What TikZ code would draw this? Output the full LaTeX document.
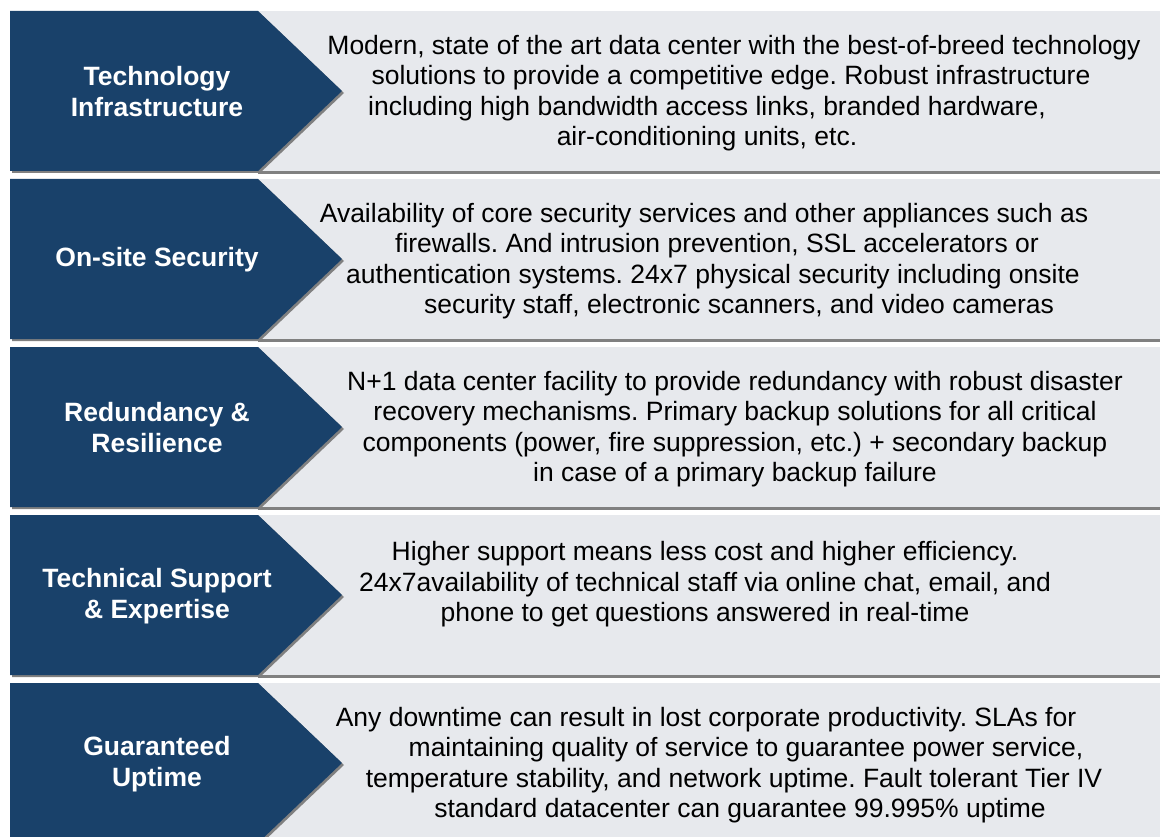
\documentclass[tikz,border=0pt]{standalone}
\usepackage{fontspec}
\setmainfont{Liberation Sans}
\usepackage{tikz}
\usetikzlibrary{positioning}
\definecolor{chevblue}{RGB}{25,65,106}
\definecolor{bandgrey}{RGB}{231,233,237}
\definecolor{shadegrey}{RGB}{128,128,128}
\tikzstyle{band}=[fill=bandgrey]
\tikzstyle{chevron}=[fill=chevblue]
\tikzstyle{shade}=[fill=shadegrey]
\tikzstyle{headtext}=[text=white,align=center,font=\fontsize{26.5}{31}\selectfont\bfseries]
\tikzstyle{bodytext}=[text=black,align=center,font=\fontsize{26.5}{30.5}\selectfont\frenchspacing]

\begin{document}
\begin{tikzpicture}[x=1pt,y=-1pt]
      \useasboundingbox (0,0) rectangle (1160,837);
      \clip (0,0) rectangle (1160,837);
      % grey bands with the chevrons on top
      \foreach \y in {11,179,347,515,683} {
        \fill[shade] (258,\y+3) rectangle (1170,\y+163);
        \fill[band] (258,\y) rectangle (1170,\y+160);
        \fill[shade] (12,\y+2) -- (260,\y+2) -- (344,\y+82) -- (260,\y+162) -- (12,\y+162) -- cycle;
        \fill[chevron] (10,\y) -- (258,\y) -- (342,\y+80) -- (258,\y+160) -- (10,\y+160) -- cycle;
      }
      \node[headtext] (tech) at (157,92) {Technology\\Infrastructure};
      \node[headtext] (security) at (157,260) {On-site Security};
      \node[headtext] (redundancy) at (157,428) {Redundancy \&\\Resilience};
      \node[headtext] (support) at (157,596) {Technical Support\\\& Expertise};
      \node[headtext] (uptime) at (157,764) {Guaranteed\\Uptime};
      \node[bodytext] (techtext) at (707,93) {\hspace*{54pt}Modern, state of the art data center with the best-of-breed technology\\
        \hspace*{48pt}solutions to provide a competitive edge. Robust infrastructure\\
        including high bandwidth access links, branded hardware,\\
        air-conditioning units, etc.};
      \node[bodytext] (securitytext) at (704,261) {Availability of core security services and other appliances such as\\
        \hspace*{26pt}firewalls. And intrusion prevention, SSL accelerators or\\
        \hspace*{18pt}authentication systems. 24x7 physical security including onsite\\
        \hspace*{70pt}security staff, electronic scanners, and video cameras};
      \node[bodytext] (redundancytext) at (735,429) {N+1 data center facility to provide redundancy with robust disaster\\
        recovery mechanisms. Primary backup solutions for all critical\\
        components (power, fire suppression, etc.) + secondary backup\\
        in case of a primary backup failure};
      \node[bodytext] (supporttext) at (705,597) {Higher support means less cost and higher efficiency.\\
        24x7availability of technical staff via online chat, email, and\\
        phone to get questions answered in real-time\\ ~};
      \node[bodytext] (uptimetext) at (706,765) {Any downtime can result in lost corporate productivity. SLAs for\\
        \hspace*{80pt}maintaining quality of service to guarantee power service,\\
        \hspace*{56pt}temperature stability, and network uptime. Fault tolerant Tier IV\\
        \hspace*{68pt}standard datacenter can guarantee 99.995\% uptime};
\end{tikzpicture}
\end{document}
